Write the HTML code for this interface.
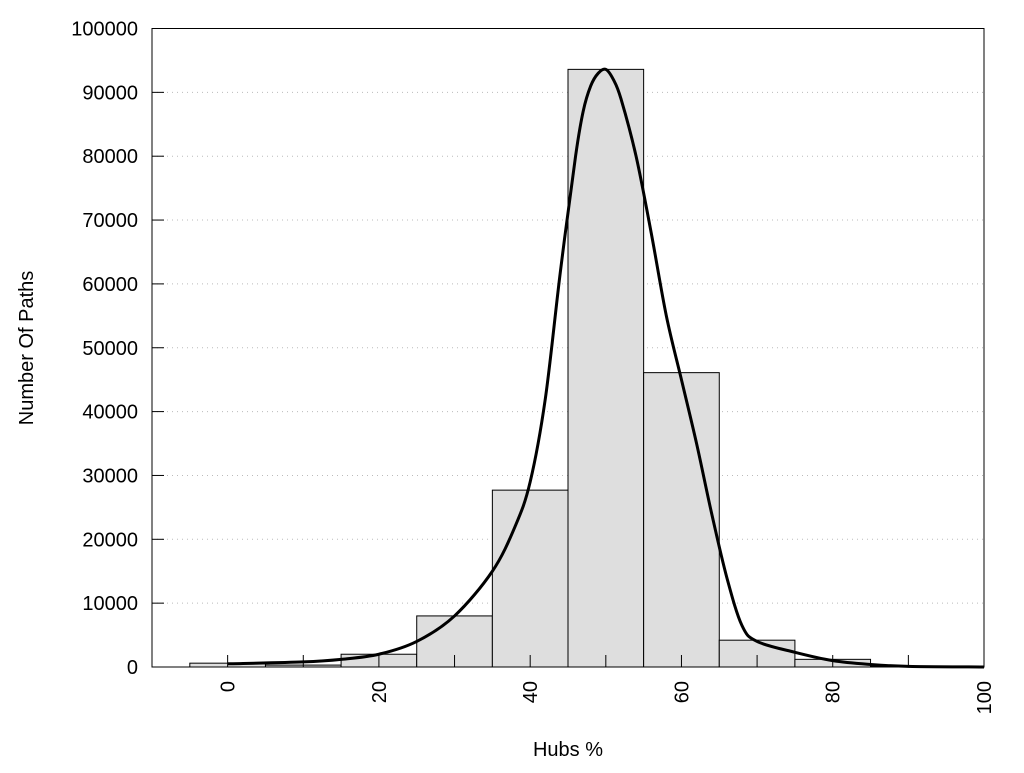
<!DOCTYPE html>
<html><head><meta charset="utf-8"><style>
html,body{margin:0;padding:0;background:#fff;}
svg text{font-family:"Liberation Sans",Arial,sans-serif;font-size:20px;fill:#000;}
</style></head><body>
<svg id="chart" width="1024" height="768" xmlns="http://www.w3.org/2000/svg">
<g id="grid"></g>
<g id="bars"></g>
<path id="curve" fill="none" stroke="#000" stroke-width="3" stroke-linejoin="round"/>
<rect x="152" y="28.5" width="832" height="638.5" fill="none" stroke="#000" stroke-width="1"/>
<g id="axes"></g>
<text x="568" y="756" text-anchor="middle">Hubs %</text>
<text transform="translate(33,348) rotate(-90)" text-anchor="middle">Number Of Paths</text>
</svg>
<script>
const binCenters=[0,10,20,30,40,50,60,70,80,90];
const binCounts=[600,300,2000,8000,27700,93600,46100,4200,1200,100];
const curveX=[0,10,15,20,25,30,35,38,40,42,44,46,47,48,49,50,51,52,54,56,58,60,62,64,66,68,70,75,80,85,90,100];
const curveY=[500,800,1200,2000,4000,8000,15000,22000,29000,42000,62000,80000,87000,91000,93000,93600,92000,89000,80000,68000,55000,45000,35000,24000,14000,6500,4000,2300,1000,400,100,0];
const yTicks=[0,10000,20000,30000,40000,50000,60000,70000,80000,90000,100000];
const xTickLabels=[0,20,40,60,80,100];
const xMinorTicks=[0,10,20,30,40,50,60,70,80,90,100];
const binWidth=10;
const X0=152,X1=984,Y0=667,Y1=28.5,xmin=-10,xmax=100,ymax=100000;
const sx=v=>X0+(v-xmin)/(xmax-xmin)*(X1-X0);
const sy=v=>Y0-v/ymax*(Y0-Y1);
const NS="http://www.w3.org/2000/svg";
function mk(tag,parent,attrs){const e=document.createElementNS(NS,tag);for(const k in attrs)e.setAttribute(k,attrs[k]);parent.appendChild(e);return e;}
const grid=document.getElementById('grid'),bars=document.getElementById('bars'),axes=document.getElementById('axes');
yTicks.forEach(t=>{
  if(t>0&&t<ymax){const g=mk('line',grid,{x1:X0,x2:X1,y1:sy(t),y2:sy(t),stroke:'#bbb','stroke-dasharray':'1,4'});
  
  }
  const tk=mk('line',axes,{x1:X0,x2:X0+12,y1:sy(t),y2:sy(t),stroke:'#000'});
  
  
  const tx=mk('text',axes,{x:138,y:sy(t)+7,'text-anchor':'end'});tx.textContent=t;
  
  
});
binCenters.forEach((c,i)=>{
  const x=sx(c-binWidth/2),w=sx(c+binWidth/2)-x,y=sy(binCounts[i]);
  const r=mk('rect',bars,{x:x,y:y,width:w,height:Y0-y,fill:'#dedede',stroke:'#000','stroke-width':1});
  
  
});
xMinorTicks.forEach(t=>{
  const tk=mk('line',axes,{x1:sx(t),x2:sx(t),y1:Y0,y2:Y0-12,stroke:'#000'});
  
  
});
xTickLabels.forEach(t=>{
  const tx=mk('text',axes,{transform:`translate(${sx(t)+7},${Y0+14}) rotate(-90)`,'text-anchor':'end'});tx.textContent=t;
  
  
});
// Catmull-Rom smoothed curve
const pts=curveX.map((x,i)=>[sx(x),sy(curveY[i])]);
let d=`M${pts[0][0]},${pts[0][1]}`;
for(let i=0;i<pts.length-1;i++){
  const p0=pts[Math.max(i-1,0)],p1=pts[i],p2=pts[i+1],p3=pts[Math.min(i+2,pts.length-1)];
  const c1=[p1[0]+(p2[0]-p0[0])/6,p1[1]+(p2[1]-p0[1])/6],c2=[p2[0]-(p3[0]-p1[0])/6,p2[1]-(p3[1]-p1[1])/6];
  d+=`C${c1[0]},${c1[1]} ${c2[0]},${c2[1]} ${p2[0]},${p2[1]}`;
}
document.getElementById('curve').setAttribute('d',d);
</script>
</body></html>
